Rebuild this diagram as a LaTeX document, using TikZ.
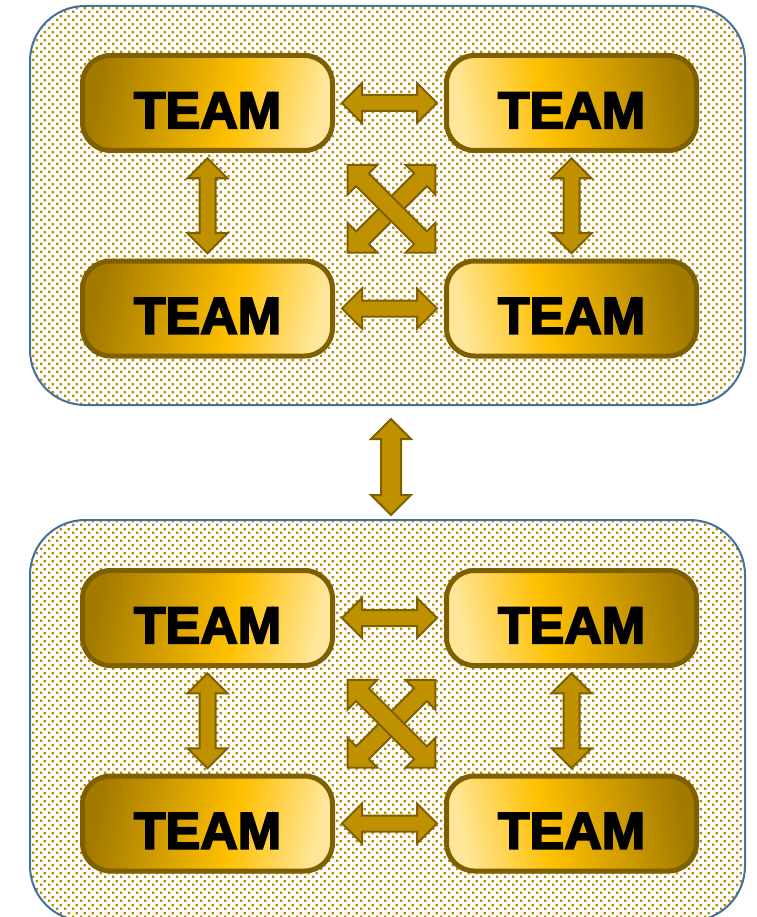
\documentclass[tikz,border=0pt]{standalone}
\usepackage{fontspec}
\newfontfamily\teamfont{Liberation Sans}[BoldFeatures={FakeBold=3.5}]
\usetikzlibrary{shapes.arrows,patterns.meta,calc}

\definecolor{boxblue}{HTML}{41719C}
\definecolor{dotgold}{HTML}{B88A00}
\definecolor{teamedge}{HTML}{7F6000}
\definecolor{arrowfill}{HTML}{BF9000}
\definecolor{gdark}{HTML}{A37A00}
\definecolor{gmid}{HTML}{FFC000}
\definecolor{glight}{HTML}{FFE69A}

% staggered square-dot fill for the group panels
\pgfdeclarepattern{
  name=goldgrid,
  type=uncolored,
  bottom left={\pgfpoint{0pt}{0pt}},
  top right={\pgfpoint{8pt}{8pt}},
  tile size={\pgfpoint{8pt}{8pt}},
  code={
    \pgfpathrectangle{\pgfpoint{0pt}{0pt}}{\pgfpoint{2.6pt}{2.6pt}}
    \pgfpathrectangle{\pgfpoint{4pt}{4pt}}{\pgfpoint{2.6pt}{2.6pt}}
    \pgfusepath{fill}
  }
}

% gold gradients for the team boxes (dark side left / dark side right)
\pgfdeclarehorizontalshading{teamleft}{100bp}{color(0bp)=(gdark); color(25bp)=(gdark); color(56bp)=(gmid); color(75bp)=(glight); color(100bp)=(glight)}
\pgfdeclarehorizontalshading{teamright}{100bp}{color(0bp)=(glight); color(25bp)=(glight); color(44bp)=(gmid); color(75bp)=(gdark); color(100bp)=(gdark)}

\tikzset{
  group/.style={draw=boxblue, line width=2pt, rounded corners=55pt,
    pattern=goldgrid, pattern color=dotgold, inner sep=0pt},
  team/.style={draw=teamedge, line width=5pt, rounded corners=28pt,
    minimum width=250pt, minimum height=95pt, inner sep=0pt,
    text height=50.6pt, text depth=0pt,
    font=\teamfont\bfseries\fontsize{52}{52}\selectfont},
  teamL/.style={team, shading=teamleft, shading angle=-12},
  teamR/.style={team, shading=teamright, shading angle=12},
  link/.style={double arrow, draw=teamedge, fill=arrowfill, line width=2pt,
    inner sep=0pt, text height=14pt, text depth=0pt,
    double arrow head extend=12pt, double arrow tip angle=90,
    minimum height=95pt},
  crosslink/.style={link, text height=16pt, minimum height=124pt},
  biglink/.style={link, text height=18pt, double arrow head extend=10pt,
    minimum height=96pt}
}

\begin{document}
\begin{tikzpicture}[x=1pt,y=-1pt]
\useasboundingbox (0,0) rectangle (756,917);
\clip (0,0) rectangle (756,917);

% the two group panels
\node[group, minimum width=715pt, minimum height=399pt] (g1) at (387.5,205.5) {};
\node[group, minimum width=715pt, minimum height=401pt] (g2) at (387.5,720.5) {};

% upper group
\node[teamL] (a1) at (207.5,103)   {TEAM};
\node[teamR] (a2) at (571.5,103)   {TEAM};
\node[teamL] (a3) at (207.5,308.5) {TEAM};
\node[teamR] (a4) at (571.5,308.5) {TEAM};

% lower group
\node[teamL] (b1) at (207.5,618)   {TEAM};
\node[teamR] (b2) at (571.5,618)   {TEAM};
\node[teamL] (b3) at (207.5,823.5) {TEAM};
\node[teamR] (b4) at (571.5,823.5) {TEAM};

% links inside the upper group
\node[link] at ($(a1.east)!.5!(a2.west)$) {};
\node[link] at ($(a3.east)!.5!(a4.west)$) {};
\node[link, rotate=90] at ($(a1.south)!.5!(a3.north)$) {};
\node[link, rotate=90] at ($(a2.south)!.5!(a4.north)$) {};
\node[crosslink, rotate=45]  at ($(a1)!.5!(a4)+(2,3)$) {};
\node[crosslink, rotate=-45] at ($(a2)!.5!(a3)+(2,3)$) {};

% links inside the lower group
\node[link] at ($(b1.east)!.5!(b2.west)$) {};
\node[link] at ($(b3.east)!.5!(b4.west)$) {};
\node[link, rotate=90] at ($(b1.south)!.5!(b3.north)$) {};
\node[link, rotate=90] at ($(b2.south)!.5!(b4.north)$) {};
\node[crosslink, rotate=45]  at ($(b1)!.5!(b4)+(2,3)$) {};
\node[crosslink, rotate=-45] at ($(b2)!.5!(b3)+(2,3)$) {};

% link between the two groups
\node[biglink, rotate=90] at ($(g1.south)!.5!(g2.north)+(3.5,4.5)$) {};
\end{tikzpicture}
\end{document}
